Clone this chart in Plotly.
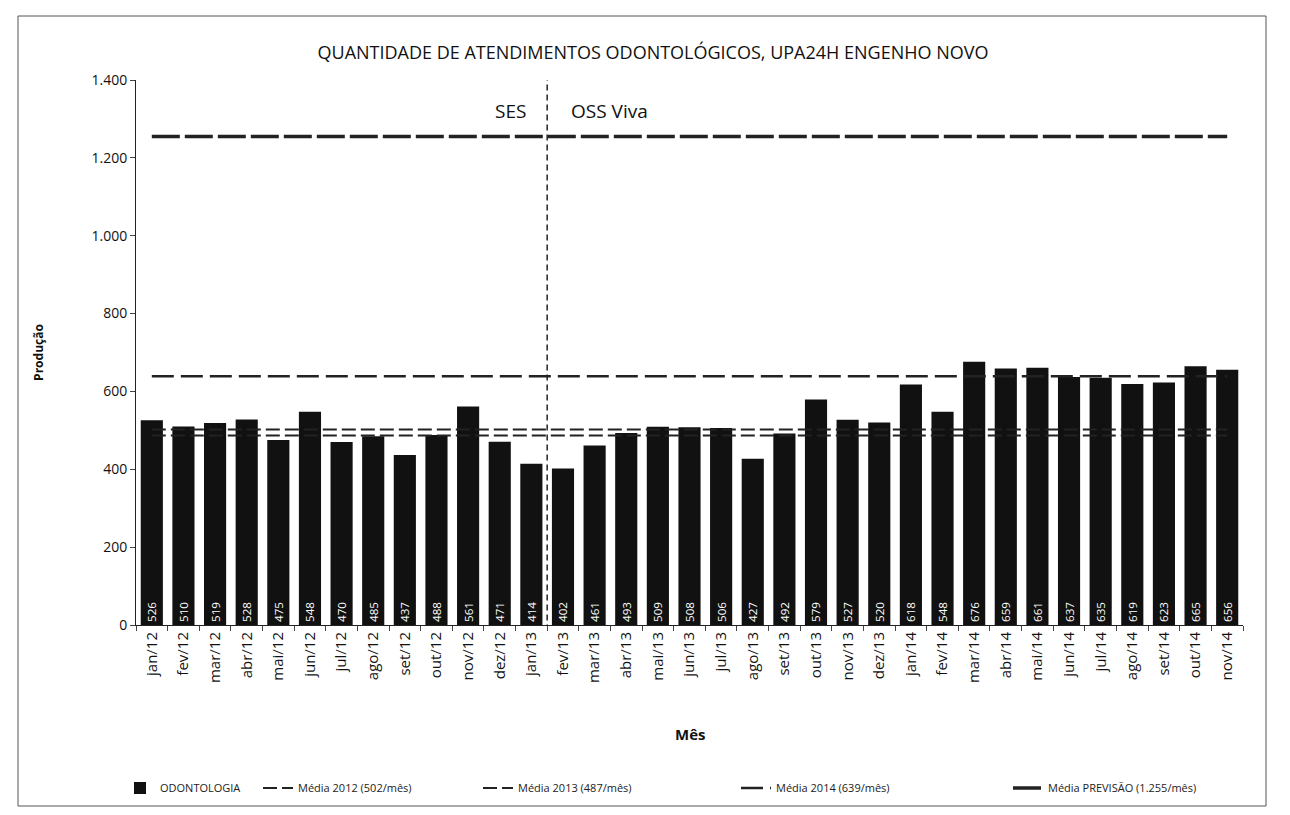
import plotly.graph_objects as go

months = ["jan/12","fev/12","mar/12","abr/12","mai/12","jun/12","jul/12","ago/12","set/12","out/12","nov/12","dez/12",
          "jan/13","fev/13","mar/13","abr/13","mai/13","jun/13","jul/13","ago/13","set/13","out/13","nov/13","dez/13",
          "jan/14","fev/14","mar/14","abr/14","mai/14","jun/14","jul/14","ago/14","set/14","out/14","nov/14"]
odonto = [526,510,519,528,475,548,470,485,437,488,561,471,
          414,402,461,493,509,508,506,427,492,579,527,520,
          618,548,676,659,661,637,635,619,623,665,656]
media_2012 = 502
media_2013 = 487
media_2014 = 639
media_prev = 1255
y_ticks = [0,200,400,600,800,1000,1200,1400]
y_ticklabels = ["0","200","400","600","800","1.000","1.200","1.400"]

FONT = "Open Sans"
W, H = 1290, 815
L, R, T, B = 128, 55, 72, 198
PW = W - L - R
PH = H - T - B

def px(p):
    return (p - L) / PW

def py(p):
    return (H - B - p) / PH

fig = go.Figure()
fig.add_trace(go.Bar(x=months, y=odonto, name="ODONTOLOGIA", legend="legend",
                     marker=dict(color="#111111", line=dict(width=0)),
                     text=[str(v) for v in odonto], textposition="inside", insidetextanchor="start",
                     textangle=-90, textfont=dict(color="white", size=13, family=FONT), width=0.7))
fig.add_trace(go.Scatter(x=months, y=[media_2012]*len(months), mode="lines", name="Média 2012 (502/mês)",
                         legend="legend2", line=dict(color="#222222", width=2, dash="14px,5px")))
fig.add_trace(go.Scatter(x=months, y=[media_2013]*len(months), mode="lines", name="Média 2013 (487/mês)",
                         legend="legend3", line=dict(color="#222222", width=2, dash="14px,5px")))
fig.add_trace(go.Scatter(x=months, y=[media_2014]*len(months), mode="lines", name="Média 2014 (639/mês)",
                         legend="legend4", line=dict(color="#222222", width=2.5, dash="22px,7px")))
fig.add_trace(go.Scatter(x=months, y=[media_prev]*len(months), mode="lines", name="Média PREVISÃO (1.255/mês)",
                         legend="legend5", line=dict(color="#222222", width=3.5, dash="28px,5px")))

fig.add_shape(type="line", xref="x", yref="y", x0=12.5, x1=12.5, y0=-40, y1=1400,
              line=dict(color="#222222", width=1.5, dash="6px,4px"))
fig.add_annotation(x=11.9, y=1320, xref="x", yref="y", text="SES", showarrow=False, xanchor="right",
                   font=dict(size=19, family=FONT, color="#111111"))
fig.add_annotation(x=13.2, y=1320, xref="x", yref="y", text="OSS Viva", showarrow=False, xanchor="left",
                   font=dict(size=19, family=FONT, color="#111111"))
fig.add_annotation(x=0.5, y=py(738), xref="paper", yref="paper", text="<b>Mês</b>", showarrow=False,
                   font=dict(size=15, family=FONT, color="#111111"))

leg_common = dict(orientation="h", yref="container", y=(H - 780) / H, yanchor="middle", xanchor="left",
                  font=dict(size=11, family=FONT, color="#222222"), bgcolor="rgba(0,0,0,0)")
fig.update_layout(
    width=W, height=H, paper_bgcolor="white", plot_bgcolor="white",
    title=dict(text="QUANTIDADE DE ATENDIMENTOS ODONTOLÓGICOS, UPA24H ENGENHO NOVO", x=0.5, xanchor="center",
               yref="container", y=1 - 45 / H, yanchor="middle", font=dict(size=18, family=FONT, color="#111111")),
    margin=dict(l=L, r=R, t=T, b=B, autoexpand=False),
    font=dict(family=FONT, color="#111111"),
    showlegend=True,
    legend=dict(x=px(112), **leg_common),
    legend2=dict(x=px(250), **leg_common),
    legend3=dict(x=px(470), **leg_common),
    legend4=dict(x=px(728), **leg_common),
    legend5=dict(x=px(1000), **leg_common),
    xaxis=dict(tickangle=-90, tickfont=dict(size=15), showline=True, linecolor="#222222", ticks="outside",
               tickson="boundaries", ticklen=5, range=[-0.5, 34.5]),
    yaxis=dict(range=[0, 1400], tickvals=y_ticks, ticktext=y_ticklabels, tickfont=dict(size=14),
               showline=True, linecolor="#222222", ticks="outside", ticklen=5, showgrid=False, zeroline=False,
               title=dict(text="<b>Produção</b>", font=dict(size=12), standoff=45)),
)
fig.add_shape(type="rect", xref="paper", yref="paper", x0=px(10), x1=px(1258), y0=py(798), y1=py(8),
              line=dict(color="#555555", width=1))
fig.write_html("out.html")
